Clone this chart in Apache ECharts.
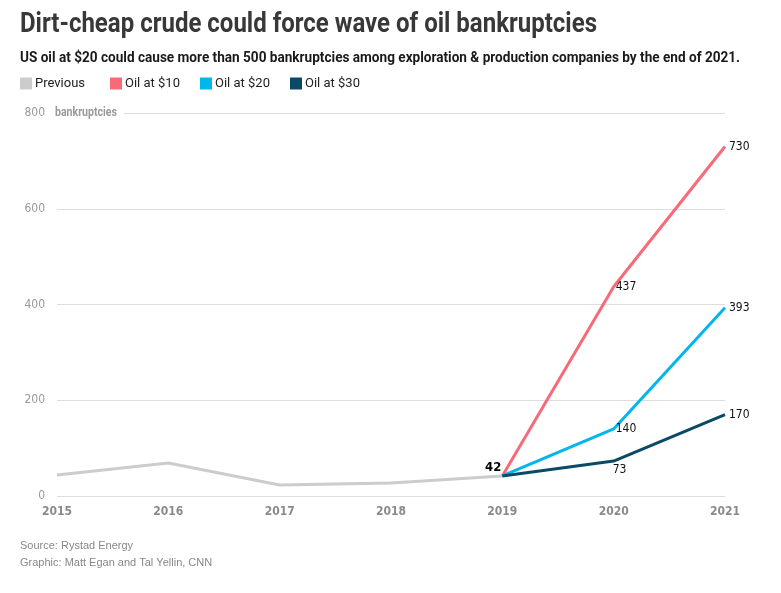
<!DOCTYPE html>
<html><head><meta charset="utf-8">
<script src="https://cdn.jsdelivr.net/npm/echarts@6/dist/echarts.min.js"></script>
<style>html,body{margin:0;padding:0;background:#fff}#c{width:781px;height:593px}</style>
</head><body><div id="c"></div>
<script>
const years = ['2015','2016','2017','2018','2019','2020','2021'];
const previous = [44, 69, 23, 27, 42, null, null];
const oil10 = [null, null, null, null, 42, 437, 730];
const oil20 = [null, null, null, null, 42, 140, 393];
const oil30 = [null, null, null, null, 42, 73, 170];
const yTicks = [0, 200, 400, 600, 800];
const seriesNames = ['Previous', 'Oil at $10', 'Oil at $20', 'Oil at $30'];
const titleText = 'Dirt-cheap crude could force wave of oil bankruptcies';
const subText = 'US oil at $20 could cause more than 500 bankruptcies among exploration & production companies by the end of 2021.';
const unitText = 'bankruptcies';

const COND = '"DejaVu Sans Condensed","Roboto",sans-serif';
const SANS = 'Roboto, "Liberation Sans", sans-serif';
const lbl = {fontFamily: COND, fontSize: 12, color: '#111'};

const mctx = document.createElement('canvas').getContext('2d');
function fitScale(text, font, target) {
  mctx.font = font;
  const w = mctx.measureText(text).width;
  return Math.min(1, target / w);
}

function mk(arr, labels) {
  return arr.map((v, i) => {
    if (labels[i]) return {value: v, label: Object.assign({show: true}, lbl, labels[i])};
    return v;
  });
}

const colors = ['#cccccc', '#f76a78', '#00b7ed', '#0a4a66'];
const legendLeft = [20, 110, 200, 290];

const chart = echarts.init(document.getElementById('c'), null, {renderer: 'canvas'});
chart.setOption({
  backgroundColor: '#fff',
  animation: false,
  title: [
    {text: 'Source: Rystad Energy', left: 20, top: 540, padding: 0,
     textStyle: {fontFamily: 'Liberation Sans, Arial, sans-serif', fontSize: 11, fontWeight: 'normal', color: '#888'}},
    {text: 'Graphic: Matt Egan and Tal Yellin, CNN', left: 20, top: 557, padding: 0,
     textStyle: {fontFamily: 'Liberation Sans, Arial, sans-serif', fontSize: 11, fontWeight: 'normal', color: '#888'}}
  ],
  legend: seriesNames.map((n, i) => ({
    left: legendLeft[i], top: 77, padding: 0, itemWidth: 12, itemHeight: 12, icon: 'rect',
    textStyle: {fontFamily: SANS, fontSize: 13, color: '#222', padding: [0, 0, 0, -2]},
    data: [n]
  })),
  grid: {left: 57, right: 56, top: 113, bottom: 97, containLabel: false},
  xAxis: {
    type: 'category', data: years, boundaryGap: false,
    axisLine: {show: false}, axisTick: {show: false},
    axisLabel: {fontFamily: COND, fontSize: 12, color: '#8a8a8a', fontWeight: 'bold', margin: 10}
  },
  yAxis: {
    type: 'value', min: yTicks[0], max: yTicks[yTicks.length - 1], interval: 200,
    axisLine: {show: false}, axisTick: {show: false},
    axisLabel: {fontFamily: COND, fontSize: 12, color: '#999', margin: 12},
    splitLine: {lineStyle: {color: '#ddd', width: 1}}
  },
  graphic: [
    {type: 'text', x: 20, y: 11, z: 10,
     scaleX: fitScale(titleText, 'bold 28px Roboto', 577),
     style: {text: titleText, font: 'bold 28px Roboto', fill: '#383838', textVerticalAlign: 'top'}},
    {type: 'text', x: 20, y: 51, z: 10,
     scaleX: fitScale(subText, 'bold 15px Roboto', 720),
     style: {text: subText, font: 'bold 15px Roboto', fill: '#1a1a1a', textVerticalAlign: 'top'}},
    {type: 'rect', shape: {x: 52, y: 105, width: 72, height: 16}, style: {fill: '#fff'}, z: 9},
    {type: 'text', x: 55, y: 107, z: 10,
     scaleX: fitScale(unitText, 'bold 12px Roboto', 62),
     style: {text: unitText, font: 'bold 12px Roboto', fill: '#999', textVerticalAlign: 'top'}}
  ],
  series: [
    {name: 'Previous', type: 'line', data: mk(previous, {4: {position: 'left', offset: [4, -8], fontWeight: 'bold', fontSize: 13, color: '#000'}}),
     symbol: 'circle', symbolSize: 0.01, lineStyle: {color: colors[0], width: 3}, itemStyle: {color: colors[0]}, z: 1},
    {name: 'Oil at $10', type: 'line', data: mk(oil10, {5: {position: 'right', offset: [-3, 0]}, 6: {position: 'right', offset: [-1, 0]}}),
     symbol: 'circle', symbolSize: 0.01, lineStyle: {color: colors[1], width: 3}, itemStyle: {color: colors[1]}, z: 2},
    {name: 'Oil at $20', type: 'line', data: mk(oil20, {5: {position: 'right', offset: [-3, 0]}, 6: {position: 'right', offset: [-1, 0]}}),
     symbol: 'circle', symbolSize: 0.01, lineStyle: {color: colors[2], width: 3}, itemStyle: {color: colors[2]}, z: 3},
    {name: 'Oil at $30', type: 'line', data: mk(oil30, {5: {position: 'right', offset: [-6, 9]}, 6: {position: 'right', offset: [-1, 0]}}),
     symbol: 'circle', symbolSize: 0.01, lineStyle: {color: colors[3], width: 3}, itemStyle: {color: colors[3]}, z: 4}
  ]
});
</script></body></html>
